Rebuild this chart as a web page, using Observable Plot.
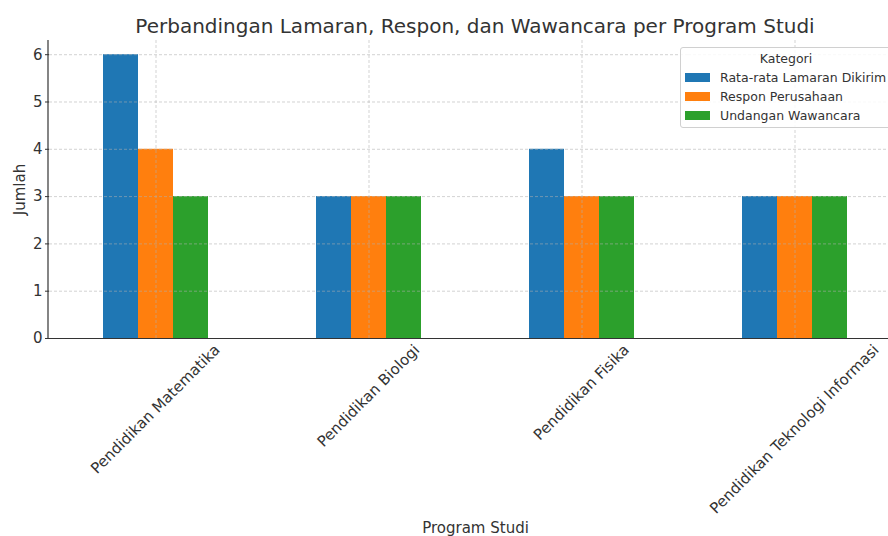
<!DOCTYPE html>
<html><head><meta charset="utf-8">
<script src="https://cdn.jsdelivr.net/npm/d3@7"></script>
<script src="https://cdn.jsdelivr.net/npm/@observablehq/plot@0.6"></script>
<style>
body{margin:0;background:#fff;font-family:"DejaVu Sans",sans-serif;}
#wrap{position:relative;width:888px;height:536px;overflow:hidden;background:#fff;}
#chart{position:absolute;left:0;top:0;}
#title{position:absolute;top:16px;left:475px;transform:translateX(-50%);white-space:nowrap;font-size:20px;color:#333;line-height:1;}
#legend{position:absolute;left:680px;top:47px;width:212px;height:81px;border:1px solid #d0d0d0;border-radius:3px;background:rgba(255,255,255,0.85);font-size:12.5px;color:#333;box-sizing:border-box;}
#legend .lt{position:absolute;left:0;width:100%;text-align:center;top:4px;line-height:14px;}
#legend .row{position:absolute;left:4px;height:14px;line-height:14px;white-space:nowrap;}
#legend .sw{display:inline-block;width:25px;height:9px;vertical-align:middle;margin-right:10px;position:relative;top:-1px;}
</style></head><body>
<div id="wrap"><div id="chart"></div><div id="title"></div><div id="legend"></div></div>
<script>
const categories = ["Pendidikan Matematika","Pendidikan Biologi","Pendidikan Fisika","Pendidikan Teknologi Informasi"];
const seriesNames = ["Rata-rata Lamaran Dikirim","Respon Perusahaan","Undangan Wawancara"];
const lamaran = [6,3,4,3];
const respon = [4,3,3,3];
const wawancara = [3,3,3,3];
const colors = ["#1f77b4","#ff7f0e","#2ca02c"];
const yTicks = [0,1,2,3,4,5,6];
const titleText = "Perbandingan Lamaran, Respon, dan Wawancara per Program Studi";
const xLabel = "Program Studi";
const yLabel = "Jumlah";
const legendTitle = "Kategori";

const seriesValues = [lamaran, respon, wawancara];
const rows = categories.flatMap((c,i)=> seriesNames.map((s,j)=>({category:c, series:s, value:seriesValues[j][i]})));

const gridStyle = {stroke:"#b0b0b0", strokeOpacity:0.7, strokeDasharray:"3,2", strokeWidth:0.8};

const plot = Plot.plot({
  width:888, height:536, marginLeft:48, marginRight:-14, marginTop:40, marginBottom:198,
  style:{fontFamily:'"DejaVu Sans", sans-serif', background:"transparent", overflow:"hidden", color:"#333"},
  fx:{domain:categories, paddingInner:0, paddingOuter:0},
  x:{domain:seriesNames, paddingInner:0, paddingOuter:1.5, axis:null},
  y:{domain:[0,6.3]},
  color:{domain:seriesNames, range:colors},
  marks:[
    Plot.barY(rows,{fx:"category", x:"series", y:"value", fill:"series", inset:0}),
    Plot.gridY(yTicks, gridStyle),
    Plot.gridFx(gridStyle),
    Plot.ruleY([0],{stroke:"#333", strokeWidth:1.2}),
    Plot.axisY(yTicks,{tickSize:4, tickPadding:3, fontSize:15, label:yLabel, labelAnchor:"center", labelOffset:35, labelArrow:"none", stroke:"#333"}),
    Plot.axisFx({anchor:"bottom", tickSize:0, fontSize:15, label:xLabel, labelAnchor:"center", labelOffset:194, labelArrow:"none"})
  ]
});
document.getElementById("chart").appendChild(plot);

// left spine
const ys = plot.scale("y");
const svg = d3.select(plot);
svg.append("line").attr("x1",48).attr("x2",48).attr("y1",ys.range[0]).attr("y2",ys.range[1]).attr("stroke","#333").attr("stroke-width",1.2);

// matplotlib-like rotated tick labels (centered on tick)
const fxs = plot.scale("fx");
const y0 = ys.apply(0);
svg.selectAll('g[aria-label="fx-axis tick label"]').each(function(){
  const g = d3.select(this);
  g.attr("transform", null);
  g.selectAll("text").each(function(){
    const t = d3.select(this);
    const d = this.textContent;
    const cx = fxs.apply(d) + fxs.bandwidth/2;
    const L = this.getComputedTextLength();
    const h = 15;
    const cy = y0 + 4 + (L + h) * Math.SQRT1_2 / 2;
    const ctm = this.parentNode.getCTM();
    const ox = ctm ? ctm.e : 0, oy = ctm ? ctm.f : 0;
    t.attr("transform", `translate(${cx - ox},${cy - oy}) rotate(-45)`).attr("text-anchor","middle").attr("dy","0.32em").attr("x",null).attr("y",null);
  });
});

document.getElementById("title").textContent = titleText;
const lg = d3.select("#legend");
lg.append("div").attr("class","lt").text(legendTitle);
seriesNames.forEach((s,i)=>{
  const r = lg.append("div").attr("class","row").style("top",(23 + i*19)+"px");
  r.append("span").attr("class","sw").style("background",colors[i]);
  r.append("span").text(s);
});
</script>
</body></html>
